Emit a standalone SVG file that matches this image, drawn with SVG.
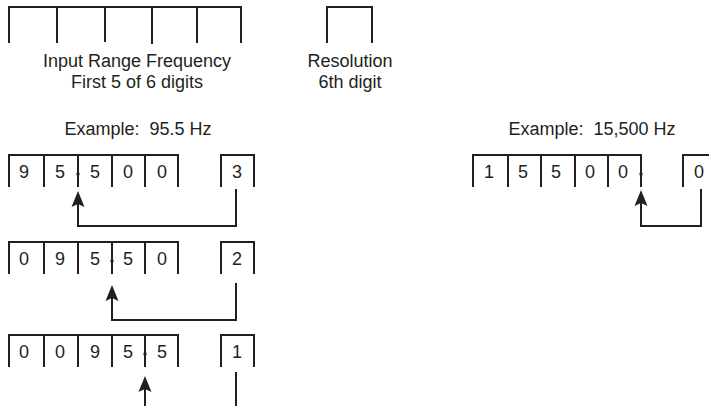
<svg xmlns="http://www.w3.org/2000/svg" width="709" height="406" viewBox="0 0 709 406">
<style>
.ln{fill:none;stroke:#231f20;stroke-width:2;stroke-linejoin:miter}
.t{font-family:"Liberation Sans",Arial,sans-serif;font-size:18px;fill:#231f20;text-anchor:middle;white-space:pre}
.dot{fill:#231f20}
</style>
<defs>
<marker id="ah" markerUnits="userSpaceOnUse" markerWidth="20" markerHeight="16" viewBox="0 -8 20 16" refX="6" refY="0" orient="auto" overflow="visible">
<path d="M0,-6.5 L16,0 L0,6.5 L3,0 Z" fill="#231f20"/>
</marker>
</defs>
<rect width="709" height="406" fill="#ffffff"/>

<g id="legend-input">
<path class="ln" d="M9,43 V7 H241 V43 M57,7 V43 M105,7 V42 M152,7 V44 M197,7 V43"/>
<text class="t" x="137" y="67">Input Range Frequency</text>
<text class="t" x="137" y="88">First 5 of 6 digits</text>
</g>
<g id="legend-resolution">
<path class="ln" d="M327,43 V7 H372 V43"/>
<text class="t" x="350" y="67">Resolution</text>
<text class="t" x="350" y="88">6th digit</text>
</g>

<g id="example-95-5">
<text class="t" x="138" y="135" xml:space="preserve">Example:  95.5 Hz</text>
</g>
<g id="example-15500">
<text class="t" x="592" y="135" xml:space="preserve">Example:  15,500 Hz</text>
</g>

<g id="row1-digits">
<path class="ln" d="M9,187 V155 H178 V187 M44,155 V187 M78,155 V187 M112,155 V187 M145,155 V187"/>
<text class="t" x="24" y="178">9</text>
<text class="t" x="60" y="178">5</text>
<text class="t" x="95" y="178">5</text>
<text class="t" x="128" y="178">0</text>
<text class="t" x="162" y="178">0</text>
<circle class="dot" cx="78" cy="174" r="1.7"/>
</g>
<g id="row1-res">
<path class="ln" d="M221,187 V155 H254 V187"/>
<text class="t" x="237" y="178">3</text>
</g>

<g id="row2-digits">
<path class="ln" d="M9,274 V242 H178 V274 M44,242 V274 M78,242 V274 M112,242 V274 M145,242 V274"/>
<text class="t" x="24" y="265">0</text>
<text class="t" x="60" y="265">9</text>
<text class="t" x="95" y="265">5</text>
<text class="t" x="128" y="265">5</text>
<text class="t" x="162" y="265">0</text>
<circle class="dot" cx="112" cy="261" r="1.7"/>
</g>
<g id="row2-res">
<path class="ln" d="M221,274 V242 H254 V274"/>
<text class="t" x="237" y="265">2</text>
</g>

<g id="row3-digits">
<path class="ln" d="M9,367 V335 H178 V367 M44,335 V367 M78,335 V367 M112,335 V367 M145,335 V367"/>
<text class="t" x="24" y="358">0</text>
<text class="t" x="60" y="358">0</text>
<text class="t" x="95" y="358">9</text>
<text class="t" x="128" y="358">5</text>
<text class="t" x="162" y="358">5</text>
<circle class="dot" cx="145" cy="354" r="1.7"/>
</g>
<g id="row3-res">
<path class="ln" d="M221,367 V335 H254 V367"/>
<text class="t" x="237" y="358">1</text>
</g>

<g id="rowR-digits">
<path class="ln" d="M473,187 V155 H641 V187 M508,155 V187 M541,155 V187 M575,155 V187 M608,155 V187"/>
<text class="t" x="489" y="178">1</text>
<text class="t" x="523" y="178">5</text>
<text class="t" x="556" y="178">5</text>
<text class="t" x="590" y="178">0</text>
<text class="t" x="623" y="178">0</text>
<circle class="dot" cx="641" cy="174" r="1.7"/>
</g>
<g id="rowR-res">
<path class="ln" d="M683,187 V155 H716 V187"/>
<text class="t" x="699" y="178">0</text>
</g>

<g id="connectors">
<path class="ln" d="M236,189 V226 H78 V201" marker-end="url(#ah)"/>
<path class="ln" d="M236,283 V320 H112 V295" marker-end="url(#ah)"/>
<path class="ln" d="M145,406 V386" marker-end="url(#ah)"/>
<path class="ln" d="M236,372 V406"/>
<path class="ln" d="M701,189 V226 H641 V200" marker-end="url(#ah)"/>
</g>
</svg>
